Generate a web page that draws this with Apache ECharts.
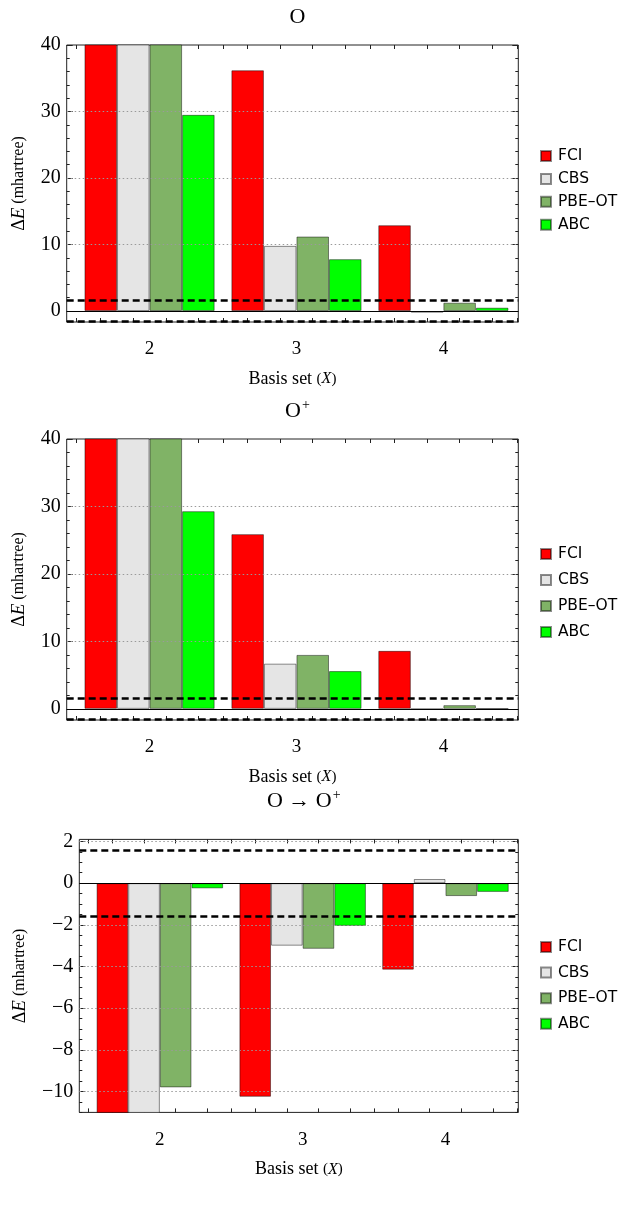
<!DOCTYPE html>
<html lang="en">
  <head>
    <meta charset="UTF-8" />
    <title>Basis set convergence</title>
    <script src="https://cdn.jsdelivr.net/npm/echarts@6/dist/echarts.min.js"></script>
    <style>
      html, body { margin: 0; padding: 0; background: #fff; }
      #chart { width: 633px; height: 1231px; }
    </style>
  </head>
  <body>
    <div id="chart"></div>
    <script>
      // basis set cardinal number X
      var basis = [2, 3, 4];
      var methods = ["FCI", "CBS", "PBE–OT", "ABC"];
      var colors = ["#ff0000", "#e5e5e5", "#80b366", "#00ff00"];

      // O atom, ΔE in mhartree (values above 40 run off the frame)
      var atomFCI = [62.0, 36.2, 12.9];
      var atomCBS = [48.0, 9.8, -0.25];
      var atomPBE = [44.0, 11.2, 1.25];
      var atomABC = [29.5, 7.8, 0.5];

      // O+ cation
      var cationFCI = [58.0, 25.9, 8.6];
      var cationCBS = [46.0, 6.7, -0.05];
      var cationPBE = [42.0, 8.0, 0.55];
      var cationABC = [29.3, 5.6, 0.05];

      // ionisation O -> O+
      var ionFCI = [-14.0, -10.25, -4.15];
      var ionCBS = [-12.5, -3.0, 0.2];
      var ionPBE = [-9.8, -3.15, -0.62];
      var ionABC = [-0.25, -2.05, -0.42];

      // chemical accuracy band, ±1.6 mhartree
      var chemAcc = 1.6;

      var yTicksAbs = [0, 10, 20, 30, 40];
      var yGridAbs = [10, 20, 30];
      var yTicksIon = [-10, -8, -6, -4, -2, 0, 2];
      var yGridIon = [-10, -8, -6, -4, -2, 2];

      var serif = "Liberation Serif";
      var barFrac = 0.2215; // bar width in basis-set units
      var xMin = 1.436, xMax = 4.51;

      var panels = [
        { title: "{t|O}", data: [atomFCI, atomCBS, atomPBE, atomABC],
          left: 66.7, top: 45, height: 277, yMin: -1.65, yMax: 40,
          ticks: yTicksAbs, grid: yGridAbs, minorStep: 2, titleTop: 1,
          legendTop: 143, legendGap: 6.9, nameGap: 38 },
        { title: "{t|O}{sup|+}", data: [cationFCI, cationCBS, cationPBE, cationABC],
          left: 66.7, top: 439, height: 281, yMin: -1.65, yMax: 40,
          ticks: yTicksAbs, grid: yGridAbs, minorStep: 2, titleTop: 393,
          legendTop: 541, legendGap: 10, nameGap: 38 },
        { title: "{t|O → O}{sup|+}", data: [ionFCI, ionCBS, ionPBE, ionABC],
          left: 79.3, top: 839.4, height: 273, yMin: -11, yMax: 2.1,
          ticks: yTicksIon, grid: yGridIon, minorStep: 0.5, titleTop: 783,
          legendTop: 934, legendGap: 9.6, nameGap: 50 }
      ];

      function range(a, b, step) {
        var out = [];
        for (var v = a; v <= b + 1e-9; v += step) out.push(Math.round(v * 1000) / 1000);
        return out;
      }

      function fmt(v) {
        return v < 0 ? "\u2212" + (-v) : String(v);
      }

      // tick marks at each bar centre and between groups
      var xTickVals = [1.5];
      basis.forEach(function (c) {
        [-1.5, -0.5, 0.5, 1.5].forEach(function (k) { xTickVals.push(c + k * barFrac); });
        xTickVals.push(c + 0.5);
      });

      var chartW = 633, rightEdge = 518.3;
      var option = {
        animation: false,
        backgroundColor: "#fff",
        title: [], legend: [], grid: [], xAxis: [], yAxis: [], series: []
      };

      panels.forEach(function (p, gi) {
        var plotW = rightEdge - p.left;
        var barPx = barFrac * plotW / (xMax - xMin);
        var minor = range(Math.ceil(p.yMin / p.minorStep) * p.minorStep, p.yMax, p.minorStep)
          .filter(function (v) { return p.ticks.indexOf(v) < 0; });

        option.title.push({
          text: p.title, left: p.left + plotW / 2, top: p.titleTop, textAlign: "center",
          textStyle: {
            fontWeight: "normal",
            rich: {
              t: { fontFamily: serif, fontSize: 22, fontWeight: "normal", color: "#000" },
              sup: { fontFamily: serif, fontSize: 14, fontWeight: "normal", color: "#000", padding: [0, 0, 12, 1] }
            }
          }
        });

        option.grid.push({
          left: p.left, right: chartW - rightEdge, top: p.top, height: p.height,
          show: true, borderColor: "#222", borderWidth: 1, backgroundColor: "transparent"
        });

        option.legend.push({
          data: methods, orient: "vertical", left: 535, top: p.legendTop,
          itemWidth: 10, itemHeight: 10, itemGap: p.legendGap, icon: "rect",
          selectedMode: false,
          textStyle: { fontFamily: "DejaVu Sans", fontSize: 15.5, color: "#000", padding: [0, 0, 0, 2] }
        });

        var xBase = {
          type: "value", gridIndex: gi, min: xMin, max: xMax,
          axisLine: { show: false, onZero: false }, splitLine: { show: false }
        };
        option.xAxis.push(Object.assign({}, xBase, {
          position: "bottom",
          axisTick: { inside: true, length: 4, customValues: xTickVals, lineStyle: { color: "#222" } },
          axisLabel: { customValues: basis, fontFamily: serif, fontSize: 19, color: "#000", margin: 18 },
          name: "{a|Basis set }{b|(}{c|X}{b|)}", nameLocation: "middle", nameGap: 48,
          nameTextStyle: {
            rich: {
              a: { fontFamily: serif, fontSize: 18, color: "#000" },
              b: { fontFamily: serif, fontSize: 15, color: "#000" },
              c: { fontFamily: serif, fontSize: 16, fontStyle: "italic", color: "#000" }
            }
          }
        }));
        option.xAxis.push(Object.assign({}, xBase, {
          position: "top",
          axisTick: { inside: true, length: 4, customValues: xTickVals, lineStyle: { color: "#222" } },
          axisLabel: { show: false }
        }));

        var yBase = {
          type: "value", gridIndex: gi, min: p.yMin, max: p.yMax,
          axisLine: { show: false, onZero: false }, splitLine: { show: false }
        };
        ["left", "right"].forEach(function (side) {
          option.yAxis.push(Object.assign({}, yBase, {
            position: side,
            axisTick: { inside: true, length: 6, customValues: p.ticks, lineStyle: { color: "#222" } },
            axisLabel: side === "left"
              ? { customValues: p.ticks, formatter: fmt, fontFamily: serif, fontSize: 20, color: "#000", margin: 6 }
              : { show: false },
            name: side === "left" ? "{d|Δ}{e|E}{s| (mhartree)}" : "",
            nameLocation: "middle", nameGap: p.nameGap,
            nameTextStyle: {
              rich: {
                d: { fontFamily: serif, fontSize: 18, color: "#000" },
                e: { fontFamily: serif, fontSize: 19, fontStyle: "italic", color: "#000" },
                s: { fontFamily: serif, fontSize: 16, color: "#000" }
              }
            }
          }));
          option.yAxis.push(Object.assign({}, yBase, {
            position: side,
            axisTick: { inside: true, length: 3, customValues: minor, lineStyle: { color: "#222" } },
            axisLabel: { show: false }
          }));
        });

        var xi = gi * 2, yi = gi * 4;

        // dotted grid lines behind bars
        option.series.push({
          type: "line", xAxisIndex: xi, yAxisIndex: yi, data: [], z: 1, silent: true,
          markLine: {
            symbol: ["none", "none"], silent: true, label: { show: false },
            lineStyle: { color: "#9a9a9a", width: 1, type: [1.5, 2.5] },
            data: p.grid.map(function (v) { return { yAxis: v }; })
          }
        });

        p.data.forEach(function (vals, k) {
          option.series.push({
            type: "bar", name: methods[k], xAxisIndex: xi, yAxisIndex: yi,
            barWidth: barPx, barGap: "0%",
            itemStyle: { color: colors[k], borderColor: "rgba(0,0,0,0.45)", borderWidth: 1 },
            data: basis.map(function (b, j) { return [b, vals[j]]; })
          });
        });

        // zero line and chemical accuracy band on top
        option.series.push({
          type: "line", xAxisIndex: xi, yAxisIndex: yi, data: [], z: 5, silent: true,
          markLine: {
            symbol: ["none", "none"], silent: true, label: { show: false },
            data: [
              { yAxis: 0, lineStyle: { color: "#000", width: 1, type: "solid" } },
              { yAxis: chemAcc, lineStyle: { color: "#000", width: 2.6, type: [7, 4] } },
              { yAxis: -chemAcc, lineStyle: { color: "#000", width: 2.6, type: [7, 4] } }
            ]
          }
        });
      });

      var chart = echarts.init(document.getElementById("chart"));
      chart.setOption(option);
    </script>
  </body>
</html>
